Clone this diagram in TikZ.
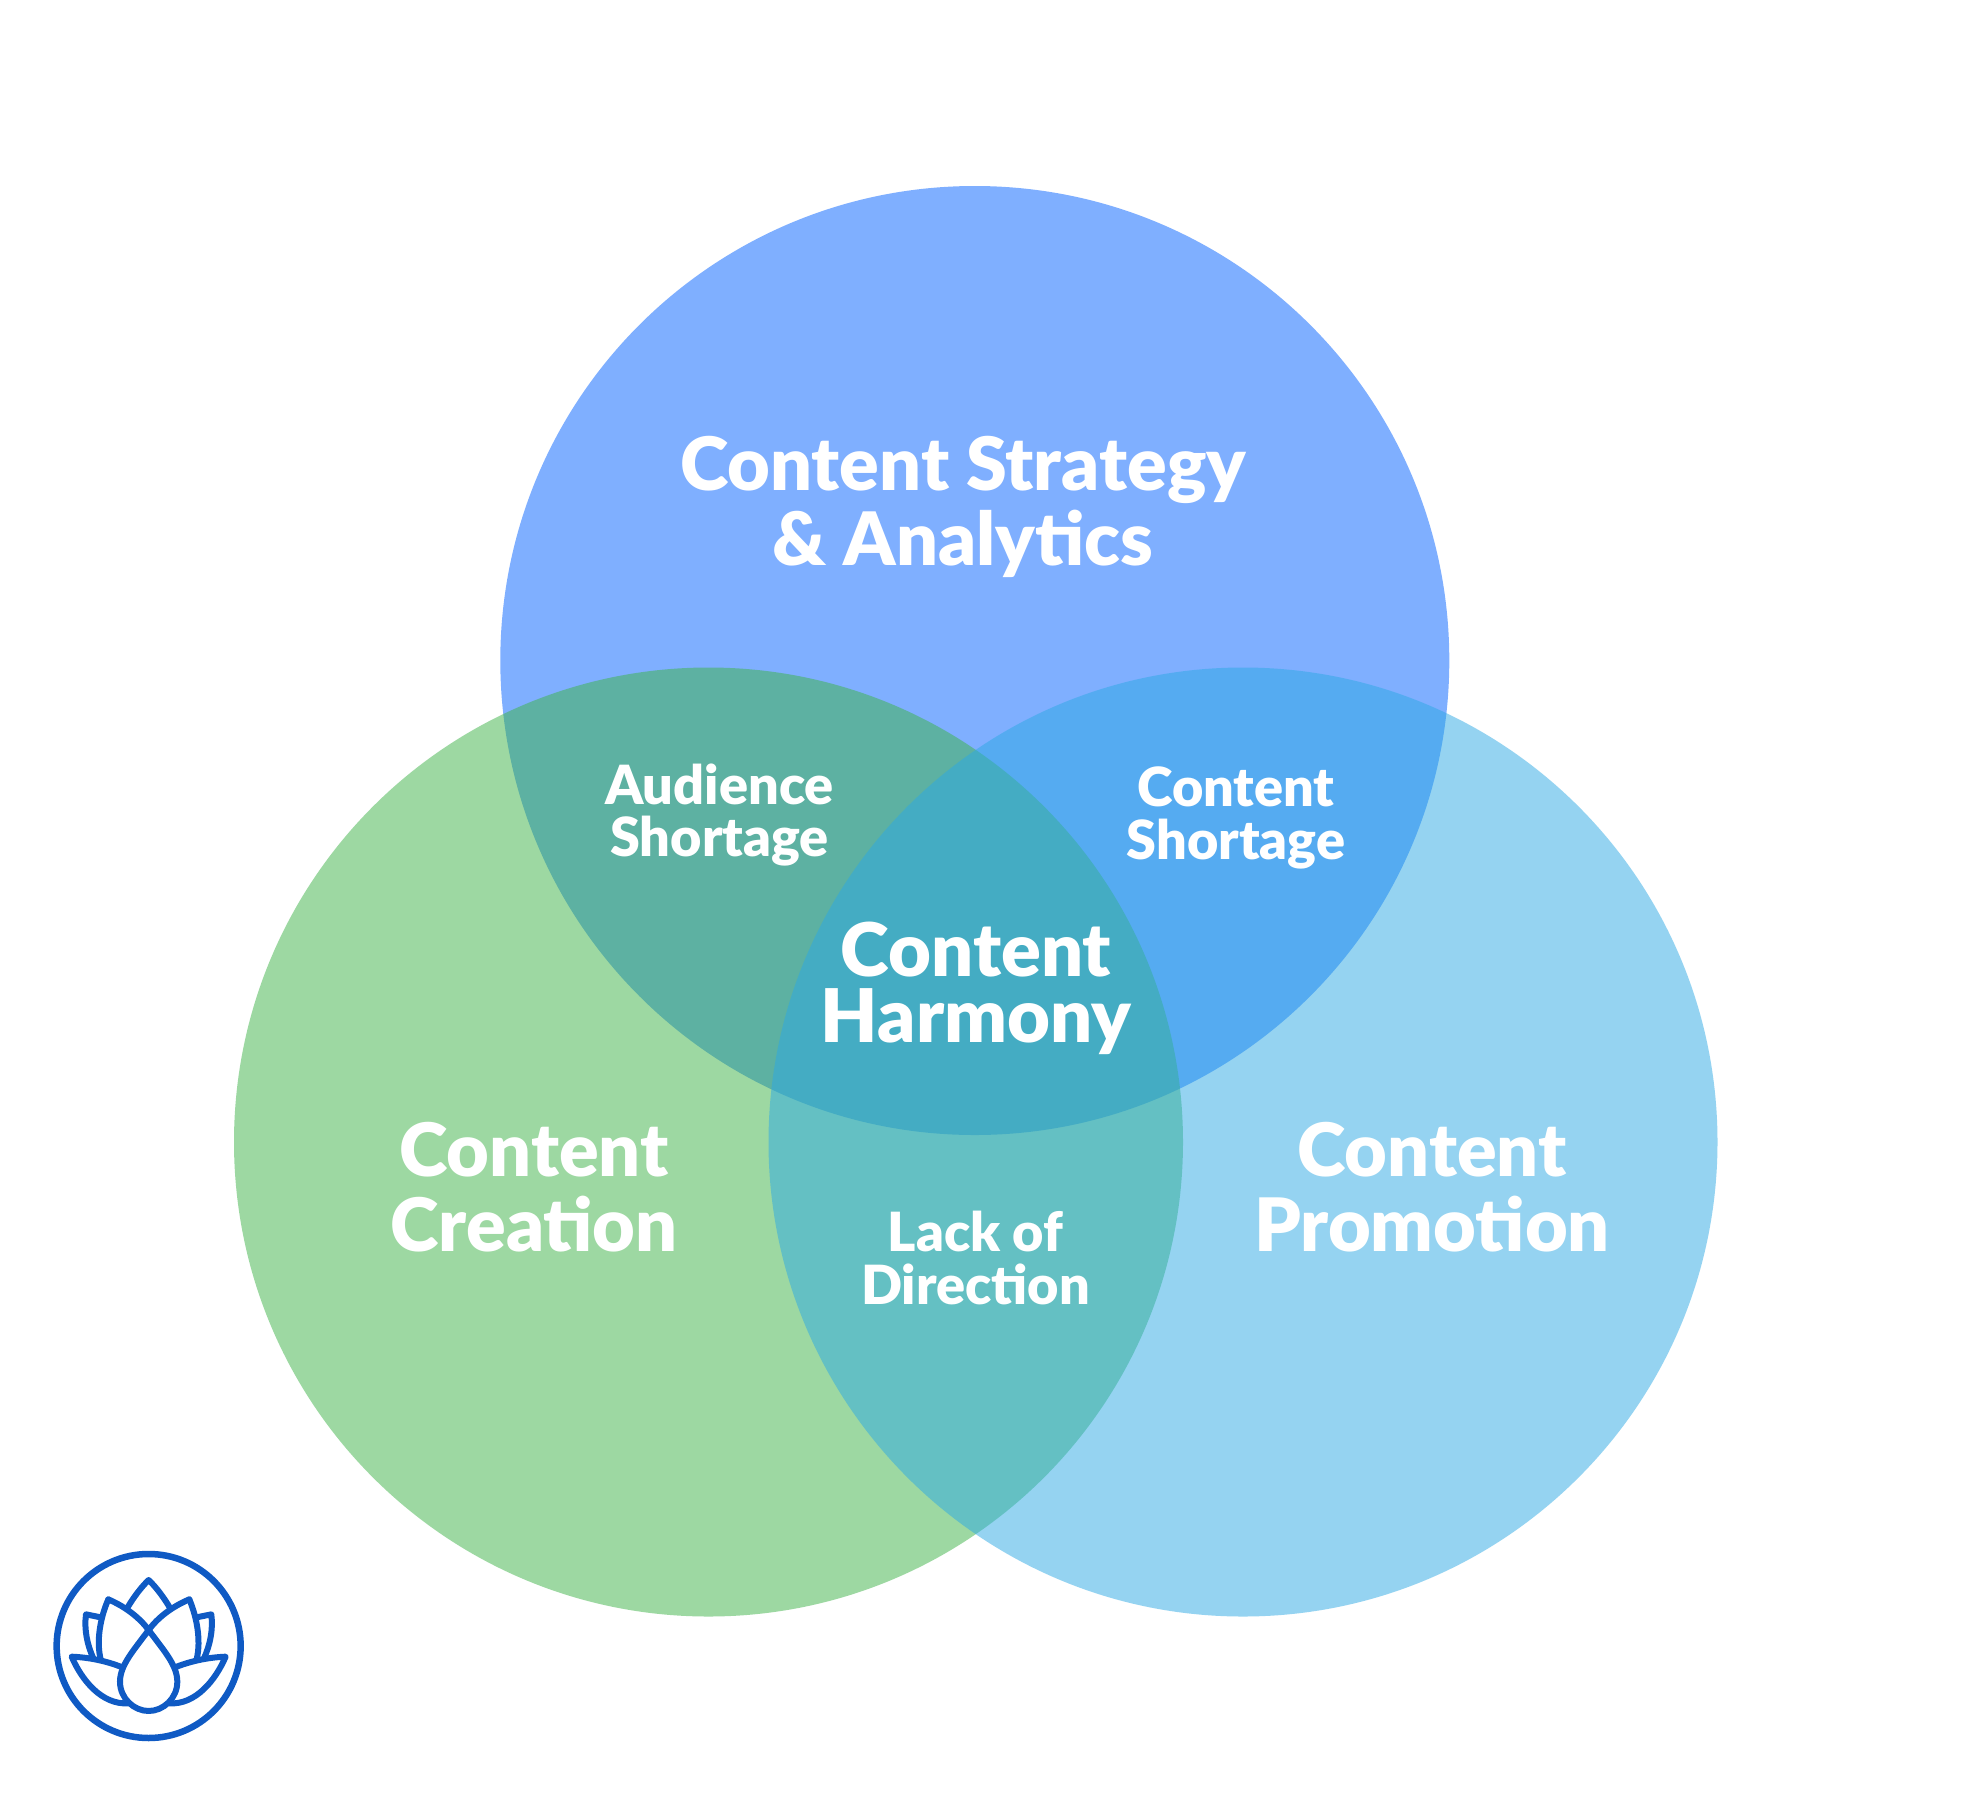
\documentclass[tikz,border=0pt]{standalone}
\usepackage{fontspec}
\setmainfont[Ligatures=Common,BoldFont={Lato Black}]{Lato}
\definecolor{cblue}{RGB}{1,97,255}
\definecolor{cgreen}{RGB}{61,179,71}
\definecolor{clight}{RGB}{44,169,229}
\definecolor{logoblue}{RGB}{15,90,196}
\tikzset{
  venn/.style={circle,inner sep=0pt,minimum size=949pt,fill opacity=.5,draw=none},
  biglabel/.style={text=white,align=center,font=\bfseries\fontsize{73.7}{75}\selectfont},
  midlabel/.style={text=white,align=center,font=\bfseries\fontsize{74}{66}\selectfont},
  smalllabel/.style={text=white,align=center,font=\bfseries\fontsize{54}{52.5}\selectfont},
  logoline/.style={draw=logoblue,line width=6pt,line join=round,line cap=round}
}
\begin{document}
\begin{tikzpicture}[x=1pt,y=-1pt]
\useasboundingbox (0,0) rectangle (1968,1800);
\fill[white] (0,0) rectangle (1968,1800);
\node[venn,fill=cblue] (strategy) at (974.8,660.5) {};
\node[venn,fill=cgreen] (creation) at (708.5,1142) {};
\node[venn,fill=clight] (promotion) at (1243,1142) {};
\node[biglabel] (tstrategy) at (963,507) {Content Strategy\\\& Analytics};
\node[smalllabel] (taudience) at (719.5,815) {Audience\\Shortage};
\node[smalllabel] (tshortage) at (1236,818) {Content\\Shortage};
\node[midlabel] (tharmony) at (976,988.5) {Content\\Harmony};
\node[biglabel] (tcreation) at (534,1187.5) {Content\\Creation};
\node[biglabel] (tpromotion) at (1432,1187.5) {Content\\Promotion};
\node[smalllabel] (tdirection) at (975.5,1258) {Lack of\\Direction};
\begin{scope}[shift={(30,1530)},x=0.3333pt,y=-0.3333pt]
\draw[logoblue,line width=6.5pt] (356,348) circle [radius=92pt];
\draw[logoline] (235,208) .. controls (290,232) and (330,265) .. (356,300)
  .. controls (400,360) and (442,405) .. (442,455)
  .. controls (442,505) and (400,543) .. (356,543)
  .. controls (312,543) and (270,505) .. (270,455)
  .. controls (270,405) and (312,360) .. (356,300)
  .. controls (382,265) and (422,232) .. (478,208);
\draw[logoline] (235,208) .. controls (212,260) and (198,330) .. (212,388);
\draw[logoline] (478,208) .. controls (500,260) and (514,330) .. (500,388);
\draw[logoline] (293,232) .. controls (312,200) and (335,170) .. (356,150)
  .. controls (377,170) and (400,200) .. (419,232);
\draw[logoline] (212,262) -- (168,253) .. controls (162,300) and (172,345) .. (190,385);
\draw[logoline] (500,262) -- (544,253) .. controls (550,300) and (540,345) .. (522,385);
\draw[logoline] (272,410) .. controls (225,392) and (175,382) .. (125,380)
  .. controls (155,450) and (215,525) .. (295,520);
\draw[logoline] (440,410) .. controls (487,392) and (537,382) .. (587,380)
  .. controls (557,450) and (497,525) .. (418,520);
\end{scope}
\end{tikzpicture}
\end{document}
